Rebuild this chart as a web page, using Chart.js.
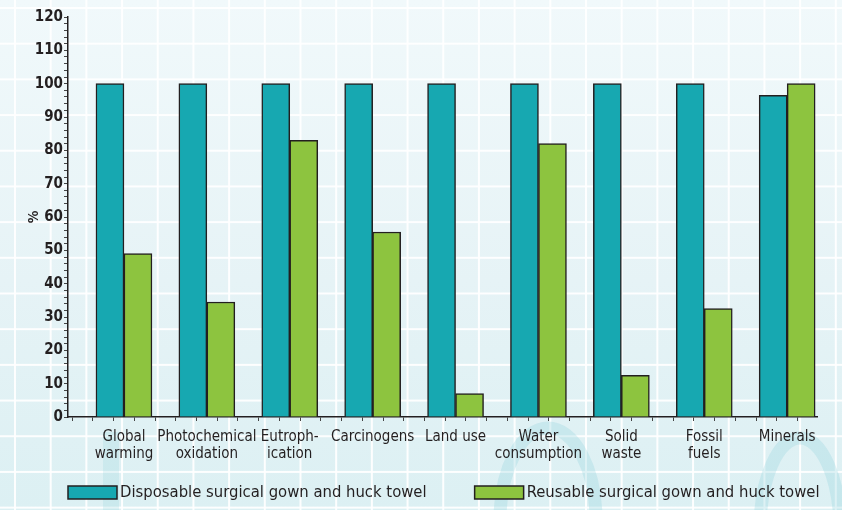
<!DOCTYPE html>
<html>
<head>
<meta charset="utf-8">
<script src="https://cdn.jsdelivr.net/npm/chart.js@4.4.1/dist/chart.umd.min.js"></script>
<style>
  html, body { margin: 0; padding: 0; }
  body {
    width: 842px; height: 510px; overflow: hidden;
    background:
      linear-gradient(90deg, rgba(255,255,255,0.95) 2px, transparent 2px) 14px 0 / 35.7px 35.7px,
      linear-gradient(180deg, rgba(255,255,255,0.95) 2px, transparent 2px) 0 7px / 35.7px 35.7px,
      linear-gradient(180deg, #f1f9fb 0%, #e6f3f6 55%, #dcf0f3 100%);
  }
  #wrap { position: relative; width: 842px; height: 510px; }
</style>
</head>
<body>
<div id="wrap"><canvas id="lcaChart" width="842" height="510"></canvas></div>
<script>
// categories and series (% relative to the larger of the two)
const categories = [
  ["Global", "warming"],
  ["Photochemical", "oxidation"],
  ["Eutroph-", "ication"],
  ["Carcinogens"],
  ["Land use"],
  ["Water", "consumption"],
  ["Solid", "waste"],
  ["Fossil", "fuels"],
  ["Minerals"]
];
const disposable = [100, 100, 100, 100, 100, 100, 100, 100, 96.5];
const reusable = [49, 34.5, 83, 55.5, 7, 82, 12.5, 32.5, 100];
const seriesNames = [
  "Disposable surgical gown and huck towel",
  "Reusable surgical gown and huck towel"
];
const yTicks = [0, 10, 20, 30, 40, 50, 60, 70, 80, 90, 100, 110, 120];

const fontFam = "'Liberation Sans Narrow', 'DejaVu Sans Condensed', 'Liberation Sans', sans-serif";
const ink = "#231f20";

// faint watermark arches behind the chart
const backdrop = {
  id: "backdrop",
  beforeDraw(chart) {
    const ctx = chart.ctx;
    ctx.save();
    ctx.strokeStyle = "rgba(140, 210, 220, 0.28)";
    ctx.lineWidth = 13;
    ctx.beginPath();
    ctx.ellipse(548, 520, 48, 92, 0, Math.PI, 2 * Math.PI);
    ctx.stroke();
    ctx.beginPath();
    ctx.ellipse(800, 530, 40, 92, 0, Math.PI, 2 * Math.PI);
    ctx.stroke();
    ctx.fillStyle = "rgba(140, 210, 220, 0.22)";
    ctx.fillRect(103, 432, 16, 78);
    ctx.restore();
  }
};

// legend drawn in one row along the bottom, boxes with a thin dark outline
const rowLegend = {
  id: "rowLegend",
  afterDraw(chart) {
    const ctx = chart.ctx;
    const y = 486, boxW = 49, boxH = 13, gap = 48;
    let x = chart.chartArea.left;
    ctx.save();
    ctx.font = "16.5px " + fontFam;
    ctx.textBaseline = "middle";
    chart.data.datasets.forEach((ds) => {
      ctx.fillStyle = ds.backgroundColor;
      ctx.fillRect(x, y, boxW, boxH);
      ctx.strokeStyle = ink;
      ctx.lineWidth = 1.5;
      ctx.strokeRect(x, y, boxW, boxH);
      ctx.fillStyle = ink;
      ctx.fillText(ds.label, x + boxW + 3, y + boxH / 2 + 0.5);
      x += boxW + 3 + ctx.measureText(ds.label).width + gap;
    });
    ctx.restore();
  }
};

const ctx = document.getElementById("lcaChart").getContext("2d");

new Chart(ctx, {
  type: "bar",
  data: {
    datasets: [
      {
        label: seriesNames[0],
        data: disposable.map((v, i) => ({ x: i, y: v })),
        backgroundColor: "#17a8b1",
        borderColor: ink,
        borderWidth: 1.5
      },
      {
        label: seriesNames[1],
        data: reusable.map((v, i) => ({ x: i, y: v })),
        backgroundColor: "#8dc43f",
        borderColor: ink,
        borderWidth: 1.5
      }
    ]
  },
  options: {
    responsive: false,
    animation: false,
    devicePixelRatio: 1,
    barThickness: 28,
    layout: { padding: { left: 20, right: 25, top: 17, bottom: 0 } },
    plugins: {
      tooltip: { enabled: false },
      legend: { display: false }
    },
    scales: {
      x: {
        type: "linear",
        offset: false,
        min: -0.675,
        max: 8.36,
        afterFit: (s) => { s.height = 93; },
        grid: {
          display: true,
          drawOnChartArea: false,
          drawTicks: true,
          tickLength: 4,
          color: "#444",
          lineWidth: 1
        },
        border: { display: true, color: ink, width: 1.5 },
        ticks: {
          stepSize: 0.25,
          includeBounds: false,
          autoSkip: false,
          maxRotation: 0,
          padding: 7,
          color: ink,
          font: { family: fontFam, size: 15, lineHeight: 1.15 },
          callback: (v) => {
            const r = Math.round(v);
            return Math.abs(v - r) < 1e-6 && categories[r] ? categories[r] : "";
          }
        }
      },
      y: {
        min: 0,
        max: 120,
        afterFit: (s) => { s.width = 48; },
        title: {
          display: true,
          text: "%",
          color: ink,
          padding: { top: 6, bottom: 0 },
          font: { family: fontFam, size: 14, weight: "bold" }
        },
        grid: {
          display: true,
          drawOnChartArea: false,
          drawTicks: true,
          tickLength: 4,
          color: "#444",
          lineWidth: 1
        },
        border: { display: true, color: ink, width: 1.5 },
        ticks: {
          stepSize: 2,
          autoSkip: false,
          padding: 1,
          color: ink,
          font: { family: fontFam, size: 15, weight: "bold" },
          callback: (v) => (yTicks.includes(v) ? String(v) : "")
        }
      }
    }
  },
  plugins: [backdrop, rowLegend]
});
</script>
</body>
</html>
